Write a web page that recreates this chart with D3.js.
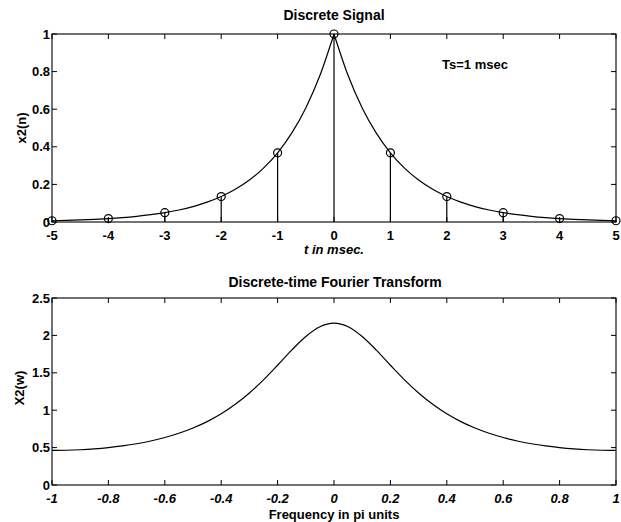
<!DOCTYPE html>
<html><head><meta charset="utf-8">
<script src="https://cdn.jsdelivr.net/npm/d3@7"></script>
<style>
body{margin:0;background:#fff;}
text{font-family:"Liberation Sans",Arial,Helvetica,sans-serif;fill:#000;}
</style></head>
<body><svg id="c" width="621" height="522"></svg>
<script>
// ---- data ----
const nSamples = [-5,-4,-3,-2,-1,0,1,2,3,4,5];
const xSamples = [0.0067,0.0183,0.0498,0.1353,0.3679,1,0.3679,0.1353,0.0498,0.0183,0.0067];
const tCurve = [-5,-4.75,-4.5,-4.25,-4,-3.75,-3.5,-3.25,-3,-2.75,-2.5,-2.25,-2,-1.75,-1.5,-1.25,-1,-0.75,-0.5,-0.25,0,
  0.25,0.5,0.75,1,1.25,1.5,1.75,2,2.25,2.5,2.75,3,3.25,3.5,3.75,4,4.25,4.5,4.75,5];
const xCurve = [0.0067,0.0087,0.0111,0.0143,0.0183,0.0235,0.0302,0.0388,0.0498,0.0639,0.0821,0.1054,0.1353,0.1738,0.2231,0.2865,0.3679,0.4724,0.6065,0.7788,1,
  0.7788,0.6065,0.4724,0.3679,0.2865,0.2231,0.1738,0.1353,0.1054,0.0821,0.0639,0.0498,0.0388,0.0302,0.0235,0.0183,0.0143,0.0111,0.0087,0.0067];
const wFreq = [-1,-0.95,-0.9,-0.85,-0.8,-0.75,-0.7,-0.65,-0.6,-0.55,-0.5,-0.45,-0.4,-0.35,-0.3,-0.25,-0.2,-0.15,-0.1,-0.05,0,
  0.05,0.1,0.15,0.2,0.25,0.3,0.35,0.4,0.45,0.5,0.55,0.6,0.65,0.7,0.75,0.8,0.85,0.9,0.95,1];
const XMag = [0.4621,0.4644,0.4712,0.4828,0.4997,0.5223,0.5515,0.5885,0.6346,0.6915,0.7617,0.8476,0.9524,1.0792,1.2304,1.4060,1.6012,1.8026,1.9855,2.1165,2.1645,
  2.1165,1.9855,1.8026,1.6012,1.4060,1.2304,1.0792,0.9524,0.8476,0.7617,0.6915,0.6346,0.5885,0.5515,0.5223,0.4997,0.4828,0.4712,0.4644,0.4621];
const topXTicks = [-5,-4,-3,-2,-1,0,1,2,3,4,5];
const topYTicks = [0,0.2,0.4,0.6,0.8,1];
const botXTicks = [-1,-0.8,-0.6,-0.4,-0.2,0,0.2,0.4,0.6,0.8,1];
const botYTicks = [0,0.5,1,1.5,2,2.5];

const svg = d3.select("#c");
const L = 52, R = 616;
const TK = 5;

function frame(x, y, xt, yt, xItalic) {
  const g = svg.append("g");
  const [x0,x1] = x.range(), [y0,y1] = y.range(); // y0 bottom, y1 top
  g.append("rect").attr("x",x0).attr("y",y1).attr("width",x1-x0).attr("height",y0-y1)
    .attr("fill","none").attr("stroke","#000").attr("stroke-width",1.1);
  xt.forEach(v=>{
    const px = x(v);
    g.append("line").attr("x1",px).attr("x2",px).attr("y1",y0).attr("y2",y0-TK).attr("stroke","#000");
    g.append("line").attr("x1",px).attr("x2",px).attr("y1",y1).attr("y2",y1+TK).attr("stroke","#000");
    g.append("text").attr("x",px).attr("y",y0+18).attr("text-anchor","middle")
      .attr("font-size",13).attr("font-weight","bold").attr("font-style",xItalic?"italic":"normal").text(String(v));
  });
  yt.forEach(v=>{
    const py = y(v);
    g.append("line").attr("x1",x0).attr("x2",x0+TK).attr("y1",py).attr("y2",py).attr("stroke","#000");
    g.append("line").attr("x1",x1).attr("x2",x1-TK).attr("y1",py).attr("y2",py).attr("stroke","#000");
    g.append("text").attr("x",x0-2).attr("y",py+4.5).attr("text-anchor","end")
      .attr("font-size",13).attr("font-weight","bold").text(String(v));
  });
}

// ---- top plot ----
const x1 = d3.scaleLinear().domain([-5,5]).range([L,R]);
const y1 = d3.scaleLinear().domain([0,1]).range([222,34]);
frame(x1,y1,topXTicks,topYTicks,false);

const line1 = d3.line().x(d=>x1(d[0])).y(d=>y1(d[1])).curve(d3.curveMonotoneX);
const pts = tCurve.map((t,i)=>[t,xCurve[i]]);
svg.append("path").attr("d",line1(pts.filter(p=>p[0]<=0))).attr("fill","none").attr("stroke","#000").attr("stroke-width",1.2);
svg.append("path").attr("d",line1(pts.filter(p=>p[0]>=0))).attr("fill","none").attr("stroke","#000").attr("stroke-width",1.2);

nSamples.forEach((n,i)=>{
  svg.append("line").attr("x1",x1(n)).attr("x2",x1(n)).attr("y1",y1(0)).attr("y2",y1(xSamples[i]))
    .attr("stroke","#000").attr("stroke-width",1.2);
  svg.append("circle").attr("cx",x1(n)).attr("cy",y1(xSamples[i])).attr("r",4)
    .attr("fill","none").attr("stroke","#000").attr("stroke-width",1.2);
});

svg.append("text").attr("x",334).attr("y",20).attr("text-anchor","middle").attr("font-size",14).attr("font-weight","bold").text("Discrete Signal");
svg.append("text").attr("x",442).attr("y",69).attr("font-size",13).attr("font-weight","bold").text("Ts=1 msec");
svg.append("text").attr("x",334).attr("y",254).attr("text-anchor","middle").attr("font-size",13).attr("font-weight","bold").attr("font-style","italic").text("t in msec.");
svg.append("text").attr("transform","translate(26,128) rotate(-90)").attr("text-anchor","middle").attr("font-size",13).attr("font-weight","bold").text("x2(n)");

// ---- bottom plot ----
const x2 = d3.scaleLinear().domain([-1,1]).range([L,R]);
const y2 = d3.scaleLinear().domain([0,2.5]).range([485,298]);
frame(x2,y2,botXTicks,botYTicks,true);
const line2 = d3.line().x((d,i)=>x2(wFreq[i])).y(d=>y2(d)).curve(d3.curveMonotoneX);
svg.append("path").attr("d",line2(XMag)).attr("fill","none").attr("stroke","#000").attr("stroke-width",1.2);

svg.append("text").attr("x",335).attr("y",287).attr("text-anchor","middle").attr("font-size",14).attr("font-weight","bold").text("Discrete-time Fourier Transform");
svg.append("text").attr("x",334).attr("y",519).attr("text-anchor","middle").attr("font-size",13).attr("font-weight","bold").text("Frequency in pi units");
svg.append("text").attr("transform","translate(24,388) rotate(-90)").attr("text-anchor","middle").attr("font-size",13).attr("font-weight","bold").text("X2(w)");
</script></body></html>
